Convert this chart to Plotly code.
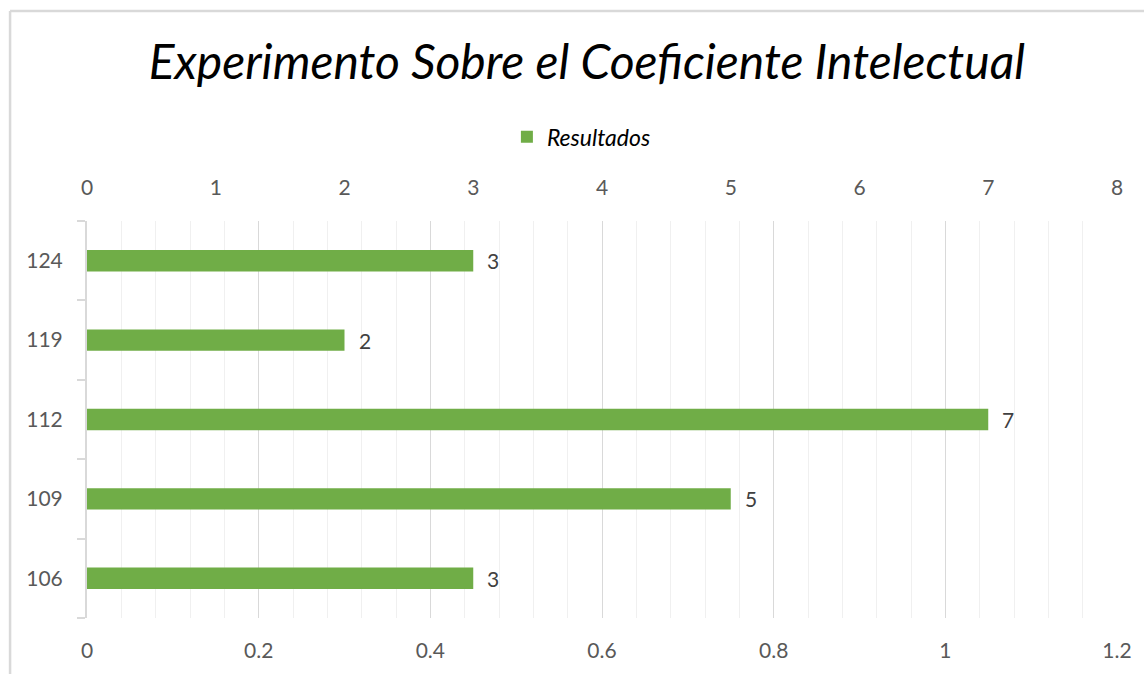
import plotly.graph_objects as go

categories = ["106", "109", "112", "119", "124"]
values = [3, 5, 7, 2, 3]
series_name = "Resultados"
title_text = "Experimento Sobre el Coeficiente Intelectual"
top_ticks = [0, 1, 2, 3, 4, 5, 6, 7, 8]
bottom_ticks = [0, 0.2, 0.4, 0.6, 0.8, 1, 1.2]

GREEN = "#70AD47"
TXT = "#595959"
FONT = "Lato"

fig = go.Figure()
# invisible carrier trace for the bottom (secondary) axis
fig.add_trace(go.Scatter(
    x=[bottom_ticks[0]], y=[categories[0]], xaxis="x", yaxis="y", mode="markers",
    marker=dict(opacity=0), showlegend=False, hoverinfo="skip",
))
fig.add_trace(go.Bar(
    y=categories, x=values, orientation="h", name=series_name,
    xaxis="x2", yaxis="y", width=0.27,
    marker=dict(color=GREEN, line=dict(width=0)),
    hoverinfo="skip",
))

for i, (c, v) in enumerate(zip(categories, values)):
    fig.add_annotation(x=v, y=i, xref="x2", yref="y", text=str(v),
                       showarrow=False, xanchor="left", xshift=12,
                       font=dict(family=FONT, size=21, color="#404040"))

fig.update_layout(
    width=1144, height=674,
    margin=dict(l=87, r=26, t=221, b=54),
    paper_bgcolor="white", plot_bgcolor="white",
    title=dict(text=title_text, x=0.513, xref="container", xanchor="center",
               y=0.908, yref="container", yanchor="middle",
               font=dict(family=FONT, size=48, color="black", style="italic")),
    showlegend=True,
    legend=dict(orientation="h", x=0.48, xanchor="center", y=1.212, yanchor="middle",
                font=dict(family=FONT, size=23, color="black", style="italic"),
                itemwidth=30),
    xaxis=dict(range=[0, 1.2], tickvals=bottom_ticks, ticktext=[str(t) for t in bottom_ticks],
               showgrid=True, gridcolor="#D9D9D9", gridwidth=1.3,
               minor=dict(dtick=0.04, tick0=0, showgrid=True, gridcolor="#F0F0F0", gridwidth=1.3),
               zeroline=False, showline=False, ticks="outside", ticklen=14,
               tickcolor="rgba(0,0,0,0)",
               tickfont=dict(family=FONT, size=21, color=TXT), anchor="y", side="bottom"),
    xaxis2=dict(range=[0, 8], tickvals=top_ticks, overlaying="x", side="top", anchor="y",
                showgrid=False, zeroline=False, showline=False, ticks="outside", ticklen=17,
                tickcolor="rgba(0,0,0,0)",
                tickfont=dict(family=FONT, size=21, color=TXT)),
    yaxis=dict(type="category", categoryorder="array", categoryarray=categories,
               range=[-0.5, 4.5], showgrid=False, zeroline=False,
               showline=True, linecolor="#D9D9D9", linewidth=2,
               ticks="outside", tickson="boundaries", ticklen=8, tickcolor="#D9D9D9", tickwidth=2,
               tickfont=dict(family=FONT, size=21, color=TXT), ticklabelstandoff=18),
)

# outer chart frame (left and top edges visible)
fig.add_shape(type="line", xref="paper", yref="paper",
              x0=(10 - 87) / 1031, x1=(1150 - 87) / 1031, y0=(620 - 10) / 399, y1=(620 - 10) / 399,
              line=dict(color="#D9D9D9", width=2.5))
fig.add_shape(type="line", xref="paper", yref="paper",
              x0=(10 - 87) / 1031, x1=(10 - 87) / 1031, y0=(620 - 10) / 399, y1=(620 - 680) / 399,
              line=dict(color="#D9D9D9", width=2.5))

fig.write_html("out.html", config={"displayModeBar": False},
               post_script="document.body.style.margin='0';")
